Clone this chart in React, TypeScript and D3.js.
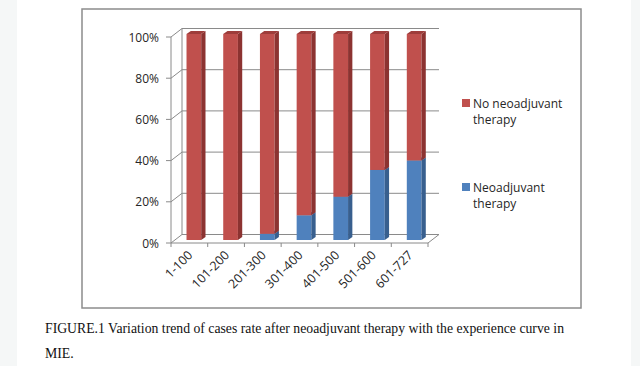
import React from "react";
import * as d3 from "d3";

const categories = ["1-100", "101-200", "201-300", "301-400", "401-500", "501-600", "601-727"];
const neoadjuvant = [0, 0, 3, 12, 21, 34, 38.6];
const noNeoadjuvant = neoadjuvant.map((v) => 100 - v);
const yTicks = [0, 20, 40, 60, 80, 100];
const caption1 = "FIGURE.1 Variation trend of cases rate after neoadjuvant therapy with the experience curve in";
const caption2 = "MIE.";

const W = 640;
const H = 366;
const RED = "#C0504D";
const RED_SIDE = "#8C3331";
const RED_TOP = "#9E3D3B";
const BLUE = "#4F81BD";
const BLUE_SIDE = "#385F8E";
const BLUE_TOP = "#41699A";
const GRID = "#8a8a8a";
const FONT = "'Open Sans', sans-serif";
const TXT = "#262626";

export default function App() {
  const x0 = 171, x1 = 428;
  const yFront0 = 243, yFront1 = 37;
  const DX = 11, DY = -8.5;
  const bdx = 4.5, bdy = -3;
  const sdx = 4.3, sdy = -3;
  const x = d3.scaleBand<string>().domain(categories).range([x0, x1]).paddingInner(0.6).paddingOuter(0.3);
  const y = d3.scaleLinear().domain([0, 100]).range([yFront0, yFront1]);
  const step = (x1 - x0) / categories.length;
  const bw = x.bandwidth();

  const poly = (pts: [number, number][]) => pts.map((p) => p.join(",")).join(" ");

  const bars: JSX.Element[] = [];
  categories.forEach((c, i) => {
    const left = (x(c) as number) + bdx;
    const right = left + bw;
    const segs = [
      { v0: 0, v1: neoadjuvant[i], f: BLUE, s: BLUE_SIDE, t: BLUE_TOP },
      { v0: neoadjuvant[i], v1: neoadjuvant[i] + noNeoadjuvant[i], f: RED, s: RED_SIDE, t: RED_TOP },
    ];
    segs.forEach((sg, j) => {
      if (sg.v1 - sg.v0 <= 0) return;
      const yb = y(sg.v0) + bdy;
      const yt = y(sg.v1) + bdy;
      bars.push(
        <g key={`${i}-${j}`}>
          <rect x={left} y={yt} width={bw} height={yb - yt} fill={sg.f} />
          <polygon points={poly([[right, yb], [right + sdx, yb + sdy], [right + sdx, yt + sdy], [right, yt]])} fill={sg.s} />
          <polygon points={poly([[left, yt], [left + sdx, yt + sdy], [right + sdx, yt + sdy], [right, yt]])} fill={sg.t} />
        </g>
      );
    });
  });

  return (
    <svg width={W} height={H} style={{ position: "absolute", left: 0, top: 0, background: "#fff" }}>
      <rect x={0} y={0} width={17} height={H} fill="#f5f7f7" />
      <rect x={631} y={0} width={9} height={H} fill="#f5f7f7" />
      <rect x={82} y={9} width={499} height={299} fill="#fff" stroke="#8c8c8c" strokeWidth={1.5} />

      {yTicks.map((t) => (
        <g key={t}>
          <line x1={x0 + DX} x2={x1 + DX} y1={y(t) + DY} y2={y(t) + DY} stroke={GRID} />
          <line x1={x0} x2={x0 + DX} y1={y(t)} y2={y(t) + DY} stroke={GRID} />
          <line x1={x0 - 5} x2={x0} y1={y(t)} y2={y(t)} stroke={GRID} />
          <text x={159} y={y(t) + 4.5} textAnchor="end" fontFamily={FONT} fontSize={12} fill={TXT}>{t}%</text>
        </g>
      ))}
      <line x1={x0 + DX} x2={x0 + DX} y1={y(0) + DY} y2={y(100) + DY} stroke={GRID} />
      <line x1={x0} x2={x0} y1={y(0)} y2={y(100)} stroke={GRID} />
      <line x1={x0} x2={x1} y1={y(0)} y2={y(0)} stroke={GRID} />
      <line x1={x1} x2={x1 + DX} y1={y(0)} y2={y(0) + DY} stroke={GRID} />
      {d3.range(categories.length + 1).map((k) => (
        <line key={k} x1={x0 + k * step} x2={x0 + k * step} y1={y(0)} y2={y(0) + 4} stroke={GRID} />
      ))}

      {bars}

      {categories.map((c) => {
        const cx = (x(c) as number) + bw / 2 + 4;
        return (
          <text key={c} transform={`translate(${cx},${y(0) + 13}) rotate(-45)`} textAnchor="end" fontFamily={FONT} fontSize={12.5} fill={TXT}>
            {c}
          </text>
        );
      })}

      <rect x={462} y={99} width={8} height={8} fill={RED} />
      <text x={473} y={107.5} fontFamily={FONT} fontSize={12} fill={TXT}>
        <tspan x={473}>No neoadjuvant</tspan>
        <tspan x={473} dy={16.5}>therapy</tspan>
      </text>
      <rect x={462} y={183} width={8} height={8} fill={BLUE} />
      <text x={473} y={191.5} fontFamily={FONT} fontSize={12} fill={TXT}>
        <tspan x={473}>Neoadjuvant</tspan>
        <tspan x={473} dy={16.5}>therapy</tspan>
      </text>

      <text x={45} y={333} fontFamily="'Liberation Serif', serif" fontSize={13.8} fill="#111" textLength={519} lengthAdjust="spacingAndGlyphs">{caption1}</text>
      <text x={45} y={358} fontFamily="'Liberation Serif', serif" fontSize={13.8} fill="#111">{caption2}</text>
    </svg>
  );
}
